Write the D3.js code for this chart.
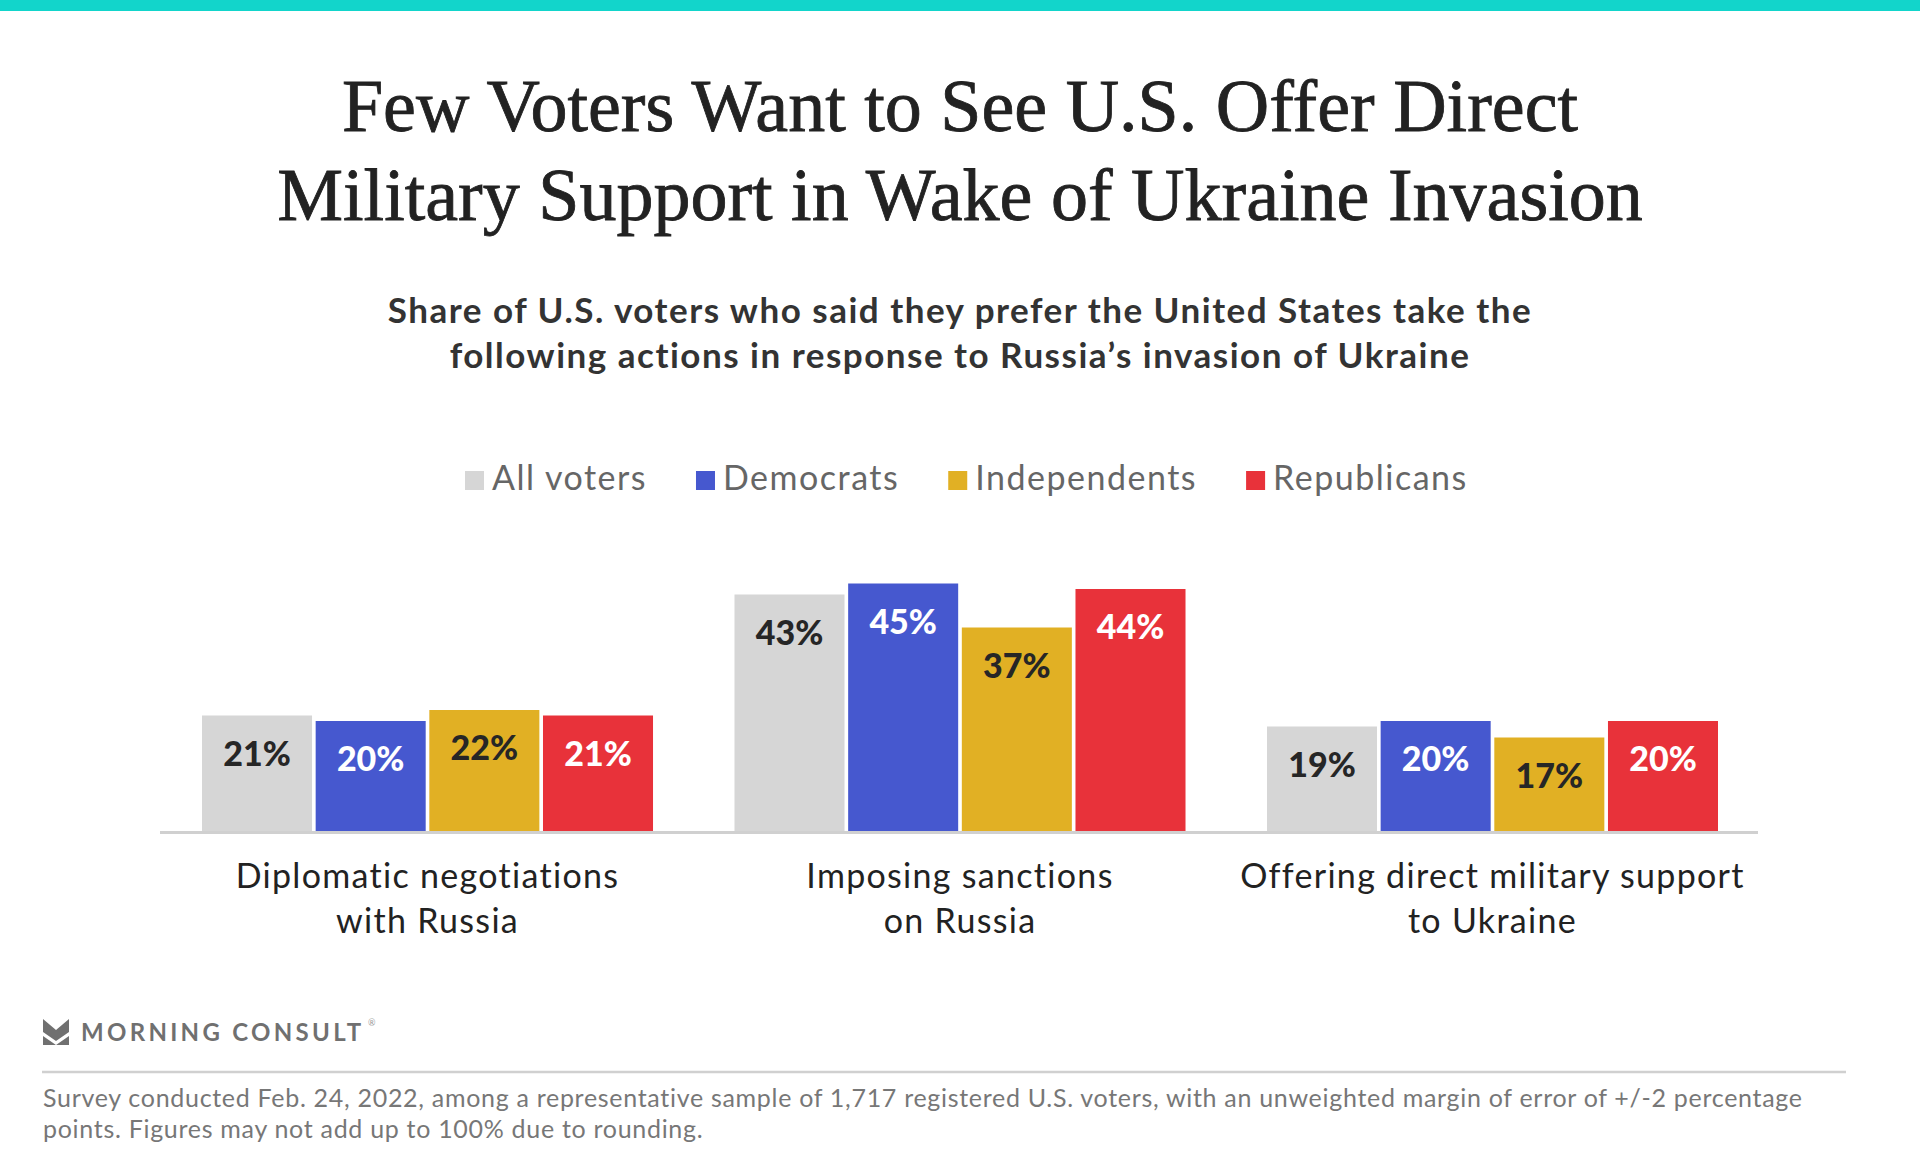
<!DOCTYPE html>
<html>
<head>
<meta charset="utf-8">
<script src="https://cdn.jsdelivr.net/npm/d3@7"></script>
<style>
  body { margin: 0; background: #fff; }
  svg { display: block; }
</style>
</head>
<body>
<div id="chart"></div>
<script>
// chart data
var categories = [
  ["Diplomatic negotiations", "with Russia"],
  ["Imposing sanctions", "on Russia"],
  ["Offering direct military support", "to Ukraine"]
];
var seriesNames = ["All voters", "Democrats", "Independents", "Republicans"];
var allVoters = [21, 43, 19];
var democrats = [20, 45, 20];
var independents = [22, 37, 17];
var republicans = [21, 44, 20];

var titleLines = [
  "Few Voters Want to See U.S. Offer Direct",
  "Military Support in Wake of Ukraine Invasion"
];
var subtitleLines = [
  "Share of U.S. voters who said they prefer the United States take the",
  "following actions in response to Russia\u2019s invasion of Ukraine"
];
var noteLines = [
  "Survey conducted Feb. 24, 2022, among a representative sample of 1,717 registered U.S. voters, with an unweighted margin of error of +/-2 percentage",
  "points. Figures may not add up to 100% due to rounding."
];

var colors = ["#d6d6d6", "#4658cf", "#e1b024", "#e8323a"];
var labelColors = ["#262626", "#ffffff", "#262626", "#ffffff"];

var values = [allVoters, democrats, independents, republicans];

var svgWidth = 1920, svgHeight = 1152;
var sans = "Lato, 'Open Sans', sans-serif";

var svg = d3.select("#chart")
  .append("svg")
  .attr("width", svgWidth)
  .attr("height", svgHeight);

// top teal strip
svg.append("rect")
  .attr("x", 0).attr("y", 0)
  .attr("width", svgWidth).attr("height", 11)
  .attr("fill", "#12d5cb");

// title
svg.append("g").selectAll("text")
  .data(titleLines)
  .enter()
  .append("text")
  .attr("x", 960)
  .attr("y", (d, i) => 131 + i * 89)
  .attr("text-anchor", "middle")
  .attr("font-family", "'Liberation Serif', serif")
  .attr("font-size", 74)
  .attr("fill", "#222")
  .attr("stroke", "#222")
  .attr("stroke-width", 0.8)
  .text(d => d);

// subtitle
svg.append("g").selectAll("text")
  .data(subtitleLines)
  .enter()
  .append("text")
  .attr("x", 960)
  .attr("y", (d, i) => 323 + i * 45)
  .attr("text-anchor", "middle")
  .attr("font-family", sans)
  .attr("font-weight", 700)
  .attr("font-size", 35)
  .attr("letter-spacing", 1.5)
  .attr("fill", "#333")
  .text(d => d);

// legend, laid out left to right
var legend = svg.append("g");
var lx = 465;
seriesNames.forEach((name, i) => {
  legend.append("rect")
    .attr("x", lx).attr("y", 471)
    .attr("width", 19).attr("height", 19)
    .attr("fill", colors[i]);
  var t = legend.append("text")
    .attr("x", lx + 27).attr("y", 490)
    .attr("font-family", sans)
    .attr("font-size", 34)
    .attr("letter-spacing", 1.5)
    .attr("fill", "#666")
    .text(name);
  lx += 27 + t.node().getComputedTextLength() + 49;
});

// scales
var x0 = d3.scaleBand()
  .domain(d3.range(categories.length))
  .range([202, 1718])
  .paddingInner(0.153);

var x1 = d3.scaleBand()
  .domain(d3.range(seriesNames.length))
  .range([0, x0.bandwidth()])
  .paddingInner(0.032);

var yScale = d3.scaleLinear()
  .domain([0, 100])
  .range([831, 281]);

var chartGroup = svg.append("g");

var groups = chartGroup.selectAll("g.group")
  .data(categories)
  .enter()
  .append("g")
  .attr("class", "group")
  .attr("transform", (d, i) => `translate(${x0(i)}, 0)`);

groups.each(function(cat, ci) {
  var g = d3.select(this);
  var rows = seriesNames.map((s, si) => ({ si: si, v: values[si][ci] }));

  g.selectAll("rect")
    .data(rows)
    .enter()
    .append("rect")
    .attr("x", d => x1(d.si))
    .attr("y", d => yScale(d.v))
    .attr("width", x1.bandwidth())
    .attr("height", d => yScale(0) - yScale(d.v))
    .attr("fill", d => colors[d.si]);

  g.selectAll("text.val")
    .data(rows)
    .enter()
    .append("text")
    .attr("class", "val")
    .attr("x", d => x1(d.si) + x1.bandwidth() / 2)
    .attr("y", d => yScale(d.v) + 50)
    .attr("text-anchor", "middle")
    .attr("font-family", sans)
    .attr("font-weight", 900)
    .attr("font-size", 34)
    .attr("fill", d => labelColors[d.si])
    .text(d => d.v + "%");

  // category label
  g.selectAll("text.cat")
    .data(cat)
    .enter()
    .append("text")
    .attr("class", "cat")
    .attr("x", x0.bandwidth() / 2)
    .attr("y", (d, i) => 888 + i * 45)
    .attr("text-anchor", "middle")
    .attr("font-family", sans)
    .attr("font-size", 34)
    .attr("letter-spacing", 1.3)
    .attr("fill", "#222")
    .text(d => d);
});

// baseline
chartGroup.append("line")
  .attr("x1", 160).attr("x2", 1758)
  .attr("y1", yScale(0) + 1.5).attr("y2", yScale(0) + 1.5)
  .attr("stroke", "#d0d0d0")
  .attr("stroke-width", 3);

// logo
var logo = svg.append("g").attr("transform", "translate(43, 1019)");
logo.append("path")
  .attr("d", "M0,0 L13,11 L26,0 L26,13 L13,22 L0,13 Z")
  .attr("fill", "#707070");
logo.append("path")
  .attr("d", "M0,17 L13,26 L0,26 Z M26,17 L26,26 L13,26 Z")
  .attr("fill", "#707070");
logo.append("text")
  .attr("x", 38).attr("y", 22)
  .attr("font-family", sans)
  .attr("font-weight", 700)
  .attr("font-size", 24)
  .attr("letter-spacing", 3.3)
  .attr("fill", "#707070")
  .text("MORNING CONSULT");
logo.append("text")
  .attr("x", 325).attr("y", 7)
  .attr("font-family", sans)
  .attr("font-size", 9)
  .attr("fill", "#999")
  .text("\u00ae");

// footer rule + note
svg.append("line")
  .attr("x1", 42).attr("x2", 1846)
  .attr("y1", 1072).attr("y2", 1072)
  .attr("stroke", "#d0d0d0")
  .attr("stroke-width", 2.5);

svg.append("g").selectAll("text")
  .data(noteLines)
  .enter()
  .append("text")
  .attr("x", 43)
  .attr("y", (d, i) => 1107 + i * 31)
  .attr("font-family", sans)
  .attr("font-size", 25)
  .attr("letter-spacing", 0.7)
  .attr("fill", "#777")
  .text(d => d);
</script>
</body>
</html>
